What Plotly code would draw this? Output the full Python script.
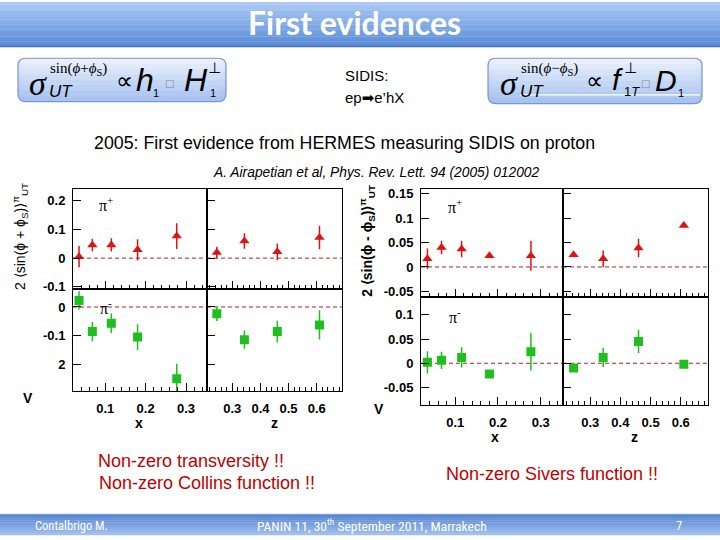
import plotly.graph_objects as go

W, H = 720, 540
def px(x): return x / W
def py(y): return 1 - y / H

# ---------------- data ----------------
x_bins = [0.035, 0.068, 0.115, 0.18, 0.277]
z_bins = [0.245, 0.343, 0.46, 0.61]

collins_pip_x = [0.005, 0.046, 0.046, 0.029, 0.077]
collins_pip_x_err = [0.037, 0.022, 0.023, 0.037, 0.045]
collins_pip_z = [0.020, 0.060, 0.022, 0.072]
collins_pip_z_err = [0.020, 0.027, 0.029, 0.041]
collins_pim_x = [0.023, -0.086, -0.057, -0.105, -0.251]
collins_pim_x_err = [0.032, 0.034, 0.034, 0.045, 0.053]
collins_pim_z = [-0.024, -0.114, -0.086, -0.0625]
collins_pim_z_err = [0.025, 0.032, 0.038, 0.051]

sivers_pip_x = [0.017, 0.040, 0.037, 0.023, 0.023]
sivers_pip_x_err = [0.021, 0.014, 0.017, 0.004, 0.031]
sivers_pip_z = [0.025, 0.017, 0.039, 0.085]
sivers_pip_z_err = [0.004, 0.017, 0.019, 0.003]
sivers_pim_x = [0.002, 0.006, 0.012, -0.022, 0.024]
sivers_pim_x_err = [0.023, 0.018, 0.021, 0.003, 0.039]
sivers_pim_z = [-0.010, 0.012, 0.045, -0.002]
sivers_pim_z_err = [0.003, 0.020, 0.024, 0.003]

collins_top_ticks = [0.2, 0.1, 0, -0.1]
collins_top_labels = ["0.2", "0.1", "0", "-0.1"]
collins_bot_ticks = [0, -0.1, -0.2]
collins_bot_labels = ["0", "-0.1", "2"]
sivers_top_ticks = [0.15, 0.1, 0.05, 0, -0.05]
sivers_top_labels = ["0.15", "0.1", "0.05", "0", "-0.05"]
sivers_bot_ticks = [0.1, 0.05, 0, -0.05]
sivers_bot_labels = ["0.1", "0.05", "0", "-0.05"]

x_range = [0.02, 0.352]
z_range = [0.21, 0.69]

RED = "#dc1414"
GREEN = "#1fbf1f"

fig = go.Figure()
layout = dict(width=720, height=540, margin=dict(l=0, r=0, t=0, b=0),
              paper_bgcolor="white", plot_bgcolor="rgba(0,0,0,0)", showlegend=False)

tickfont = dict(family="Liberation Sans, Arial", size=13, color="black", weight="bold")

panels = [
    (1, (73, 207), (189, 291), "x", [-0.1086, 0.243], collins_top_ticks, collins_top_labels, False, True,
     x_bins, collins_pip_x, collins_pip_x_err, RED, "triangle-up"),
    (2, (207, 342), (189, 291), "z", [-0.1086, 0.243], collins_top_ticks, collins_top_labels, False, False,
     z_bins, collins_pip_z, collins_pip_z_err, RED, "triangle-up"),
    (3, (73, 207), (291, 394), "x", [-0.293, 0.062], collins_bot_ticks, collins_bot_labels, True, True,
     x_bins, collins_pim_x, collins_pim_x_err, GREEN, "square"),
    (4, (207, 342), (291, 394), "z", [-0.293, 0.062], collins_bot_ticks, collins_bot_labels, True, False,
     z_bins, collins_pim_z, collins_pim_z_err, GREEN, "square"),
    (5, (421, 563), (189, 299), "x", [-0.0619, 0.161], sivers_top_ticks, sivers_top_labels, False, True,
     x_bins, sivers_pip_x, sivers_pip_x_err, RED, "triangle-up"),
    (6, (563, 708), (189, 299), "z", [-0.0619, 0.161], sivers_top_ticks, sivers_top_labels, False, False,
     z_bins, sivers_pip_z, sivers_pip_z_err, RED, "triangle-up"),
    (7, (421, 563), (299, 408), "x", [-0.0857, 0.1367], sivers_bot_ticks, sivers_bot_labels, True, True,
     x_bins, sivers_pim_x, sivers_pim_x_err, GREEN, "square"),
    (8, (563, 708), (299, 408), "z", [-0.0857, 0.1367], sivers_bot_ticks, sivers_bot_labels, True, False,
     z_bins, sivers_pim_z, sivers_pim_z_err, GREEN, "square"),
]

shapes = []
for (n, xd, yd, var, yr, yt, yl, showx, showy, xs, ys, es, col, sym) in panels:
    sfx = "" if n == 1 else str(n)
    xa = dict(domain=[px(xd[0]), px(xd[1])], range=x_range if var == "x" else z_range,
              anchor="y" + sfx, showline=True, mirror=True, linecolor="black", linewidth=1,
              ticks="inside", ticklen=8, tickcolor="black", tickwidth=1,
              tickmode="linear", tick0=0, dtick=0.1, tickformat=".1f",
              showticklabels=showx, tickfont=tickfont, ticklabelstandoff=6,
              showgrid=False, zeroline=False, fixedrange=True,
              minor=dict(ticks="inside", ticklen=4, tickcolor="black", tickmode="linear",
                         tick0=0, dtick=0.02, showgrid=False))
    ya = dict(domain=[py(yd[1]), py(yd[0])], range=yr, anchor="x" + sfx,
              showline=True, mirror=True, linecolor="black", linewidth=1,
              ticks="inside", ticklen=8, tickcolor="black", tickwidth=1,
              tickmode="array", tickvals=yt, ticktext=yl,
              showticklabels=showy, tickfont=tickfont, ticklabelstandoff=4,
              showgrid=False, zeroline=False, fixedrange=True)
    layout["xaxis" + sfx] = xa
    layout["yaxis" + sfx] = ya
    shapes.append(dict(type="line", xref="x" + sfx + " domain", yref="y" + sfx,
                       x0=0, x1=1, y0=0, y1=0, line=dict(color="#a82424", width=1, dash="4px,3px"),
                       layer="below"))
    fig.add_trace(go.Scatter(x=xs, y=ys, mode="markers", xaxis="x" + sfx, yaxis="y" + sfx,
                             marker=dict(symbol=sym, size=9, color=col, line=dict(width=0)),
                             error_y=dict(type="data", array=es, visible=True, color=col,
                                          thickness=1.5, width=0),
                             hoverinfo="skip"))

# ---------------- decorations ----------------
def lerp(c1, c2, t):
    a = [int(c1[i:i + 2], 16) for i in (1, 3, 5)]
    b = [int(c2[i:i + 2], 16) for i in (1, 3, 5)]
    return "#%02x%02x%02x" % tuple(round(a[i] + (b[i] - a[i]) * t) for i in range(3))

def band(y0, y1, ctop, cbot, n=18):
    h = (y1 - y0) / n
    for k in range(n):
        shapes.append(dict(type="rect", xref="paper", yref="paper",
                           x0=0, x1=1, y0=py(y0 + (k + 1) * h + 0.3), y1=py(y0 + k * h),
                           fillcolor=lerp(ctop, cbot, k / (n - 1)), line=dict(width=0), layer="below"))

band(0, 45, "#aac8f3", "#5a8dd8")
shapes.append(dict(type="line", xref="paper", yref="paper", x0=0, x1=1, y0=py(45), y1=py(45),
                   line=dict(color="#4673bd", width=1.5)))
band(519, 540, "#5282cf", "#a2c0ee", n=10)
shapes.append(dict(type="line", xref="paper", yref="paper", x0=0, x1=1, y0=py(519), y1=py(519),
                   line=dict(color="#7fa4e0", width=1)))

def rrect(x0, y0, x1, y1, r=8):
    rx, ry = r / W, r / H
    X0, X1, Y0, Y1 = px(x0), px(x1), py(y0), py(y1)
    return (f"M {X0+rx},{Y0} L {X1-rx},{Y0} Q {X1},{Y0} {X1},{Y0-ry} L {X1},{Y1+ry} "
            f"Q {X1},{Y1} {X1-rx},{Y1} L {X0+rx},{Y1} Q {X0},{Y1} {X0},{Y1+ry} L {X0},{Y0-ry} "
            f"Q {X0},{Y0} {X0+rx},{Y0} Z")

def formula_box(x0, y0, x1, y1):
    n = 8
    for k in range(n):
        yb = y1 - (y1 - y0) * k / n
        shapes.append(dict(type="path", xref="paper", yref="paper", path=rrect(x0, y0, x1, yb),
                           fillcolor=lerp("#a8c3f0", "#e9f0fc", k / (n - 1)), line=dict(width=0),
                           layer="below"))
    shapes.append(dict(type="path", xref="paper", yref="paper", path=rrect(x0, y0, x1, y1),
                       fillcolor="rgba(0,0,0,0)", line=dict(color="#7c97c9", width=1.2), layer="below"))

formula_box(18, 57, 226, 101)
formula_box(488, 57, 702, 103)
shapes.append(dict(type="line", xref="paper", yref="paper", x0=px(520), x1=px(700), y0=py(94), y1=py(94),
                   line=dict(color="white", width=1.2)))

annotations = []
def ann(text, x, y, size, color="black", family="Liberation Sans, Arial", xa="center", ya="middle",
        angle=0, weight="normal"):
    annotations.append(dict(text=text, x=px(x), y=py(y), xref="paper", yref="paper",
                            xanchor=xa, yanchor=ya, showarrow=False, textangle=angle,
                            font=dict(size=size, color=color, family=family, weight=weight)))

SERIF = "Liberation Serif, Times New Roman"
SANS = "Liberation Sans, Arial"

ann("First evidences", 354, 21, 32, color="white", family="Lato, Open Sans", weight="bold")

# left formula
ann("<i>σ</i>", 38, 83, 34, family=SERIF)
ann("sin(<i>ϕ</i>+<i>ϕ</i><sub>S</sub>)", 48, 68, 15, family=SERIF, xa="left")
ann("<i>UT</i>", 47, 91, 17, family=SANS, xa="left")
ann("∝", 124, 80, 24, family=SERIF)
ann("<i>h</i>", 145, 79, 32, family=SANS)
ann("1", 156, 92, 11, family=SANS)
ann("□", 169, 83, 10, color="#888888", family="DejaVu Sans")
ann("<i>H</i>", 196, 79, 32, family=SANS)
ann("⊥", 214, 67, 15, family="DejaVu Sans")
ann("1", 213, 92, 11, family=SANS)

# right formula
ann("<i>σ</i>", 509, 83, 34, family=SERIF)
ann("sin(<i>ϕ</i>−<i>ϕ</i><sub>S</sub>)", 519, 68, 15, family=SERIF, xa="left")
ann("<i>UT</i>", 518, 91, 17, family=SANS, xa="left")
ann("∝", 594, 80, 24, family=SERIF)
ann("<i>f</i>", 617, 79, 30, family=SANS)
ann("⊥", 630, 67, 15, family="DejaVu Sans")
ann("1<i>T</i>", 622, 91, 13, family=SANS, xa="left")
ann("□", 645, 83, 10, color="#888888", family="DejaVu Sans")
ann("<i>D</i>", 666, 80, 30, family=SANS)
ann("1", 681, 92, 11, family=SANS)

ann("SIDIS:", 343, 74, 15, xa="left")
ann("ep<span style='font-family:DejaVu Sans'>➡</span>e’hX", 343, 97, 15, xa="left")

ann("2005: First evidence from HERMES measuring SIDIS on proton", 344, 143, 17.8)
ann("<i>A. Airapetian et al, Phys. Rev. Lett. 94 (2005) 012002</i>", 376, 173, 13.8)

# axis titles
ann("2 ⟨sin(ϕ + ϕ<sub>S</sub>)⟩<sup>π</sup><sub>UT</sub>", 20, 238, 14, angle=-90)
ann("V", 28, 401, 14, weight="bold")
ann("x", 139, 427, 14, weight="bold")
ann("z", 274, 427, 14, weight="bold")
ann("2 ⟨sin(ϕ - ϕ<sub>S</sub>)⟩<sup>π</sup><sub>UT</sub>", 367, 242, 14, angle=-90, weight="bold")
ann("V", 379, 412, 14, weight="bold")
ann("x", 495, 441, 14, weight="bold")
ann("z", 634, 441, 14, weight="bold")

# pion labels
ann("π<sup>+</sup>", 106, 205, 16, family=SERIF)
ann("π<sup>-</sup>", 106, 309, 16, family=SERIF)
ann("π<sup>+</sup>", 455, 207, 16, family=SERIF)
ann("π<sup>-</sup>", 455, 318, 16, family=SERIF)

# red comments
ann("Non-zero transversity !!", 191, 465, 18, color="#c00000")
ann("Non-zero Collins function !!", 207, 487, 18, color="#c00000")
ann("Non-zero Sivers function !!", 552, 478, 18, color="#c00000")

# footer
FOOT = "Liberation Sans Narrow, Roboto Condensed, Liberation Sans, Arial"
ann("Contalbrigo M.", 33, 530, 12.5, color="white", family=FOOT, xa="left")
ann("PANIN 11, 30<sup>th</sup> September 2011, Marrakech", 372, 530, 13.5, color="white", family=FOOT)
ann("7", 679, 530, 12.5, color="white", family=FOOT)

layout["shapes"] = shapes
layout["annotations"] = annotations
fig.update_layout(**layout)
fig.write_html("out.html", config={"displayModeBar": False},
               post_script="document.body.style.margin='0px';document.body.style.padding='0px';")
